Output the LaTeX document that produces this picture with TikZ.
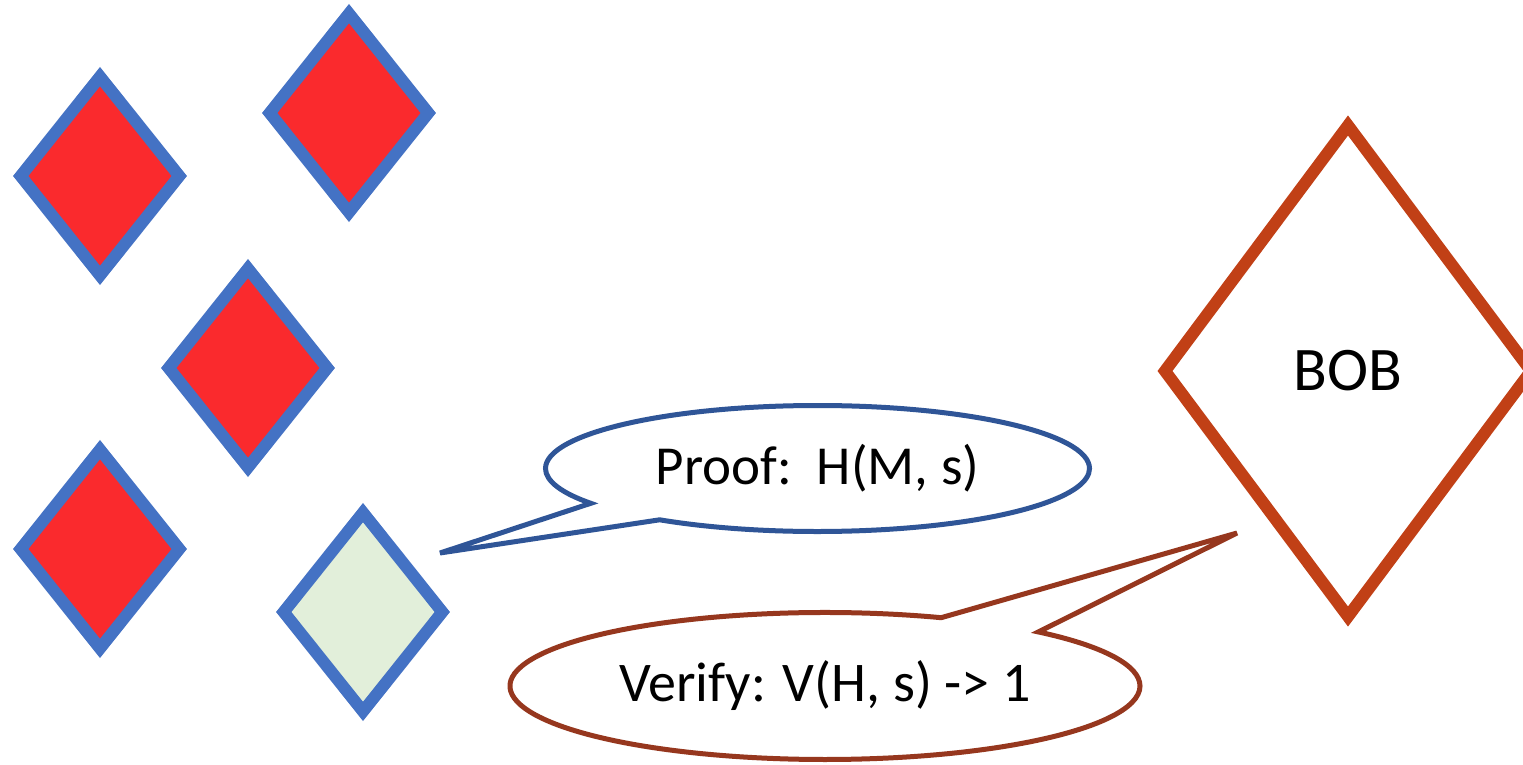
\documentclass[tikz,border=0pt]{standalone}
\usepackage{fontspec}
\setmainfont{Carlito}
\usetikzlibrary{shapes.geometric,shapes.callouts}
\definecolor{diablue}{RGB}{68,114,196}
\definecolor{diared}{RGB}{250,42,45}
\definecolor{diagreen}{RGB}{226,239,218}
\definecolor{callblue}{RGB}{47,85,151}
\definecolor{callbrown}{RGB}{150,55,30}
\definecolor{bobred}{RGB}{193,64,22}
\begin{document}
\begin{tikzpicture}[x=1pt,y=-1pt,
  card/.style={diamond, draw=diablue, line width=12pt, fill=diared,
    minimum width=158.6pt, minimum height=198.8pt, inner sep=0pt, outer sep=0pt},
  greencard/.style={card, fill=diagreen},
  bobbox/.style={diamond, draw=bobred, line width=12pt, fill=white,
    minimum width=371pt, minimum height=496pt, inner sep=0pt,
    font=\fontsize{62}{74}\selectfont},
  bubble/.style={ellipse callout, line width=5pt, fill=white, inner sep=0pt,
    callout pointer arc=21},
  proofbubble/.style={bubble, draw=callblue, minimum width=544pt, minimum height=126pt,
    font=\fontsize{55}{66}\selectfont},
  verifybubble/.style={bubble, draw=callbrown, minimum width=630pt, minimum height=147pt,
    font=\fontsize{56}{67}\selectfont}]
\useasboundingbox (0,0) rectangle (1523,765);
\node[card] (c1) at (100,176) {};
\node[card] (c2) at (349,113) {};
\node[card] (c3) at (248,368) {};
\node[card] (c4) at (100,549) {};
\node[greencard] (g) at (363,612) {};
\node[bobbox] (bob) at (1348,371) {BOB};
\coordinate (tip1) at (440,553);
\coordinate (tip2) at (1237,533);
\node[proofbubble, callout absolute pointer=(tip1)] (proof) at (817.5,468.5) {Proof:\ \ H(M, s)};
\node[verifybubble, callout absolute pointer=(tip2)] (verify) at (825,686) {Verify: V(H, s) -> 1};
\end{tikzpicture}
\end{document}
